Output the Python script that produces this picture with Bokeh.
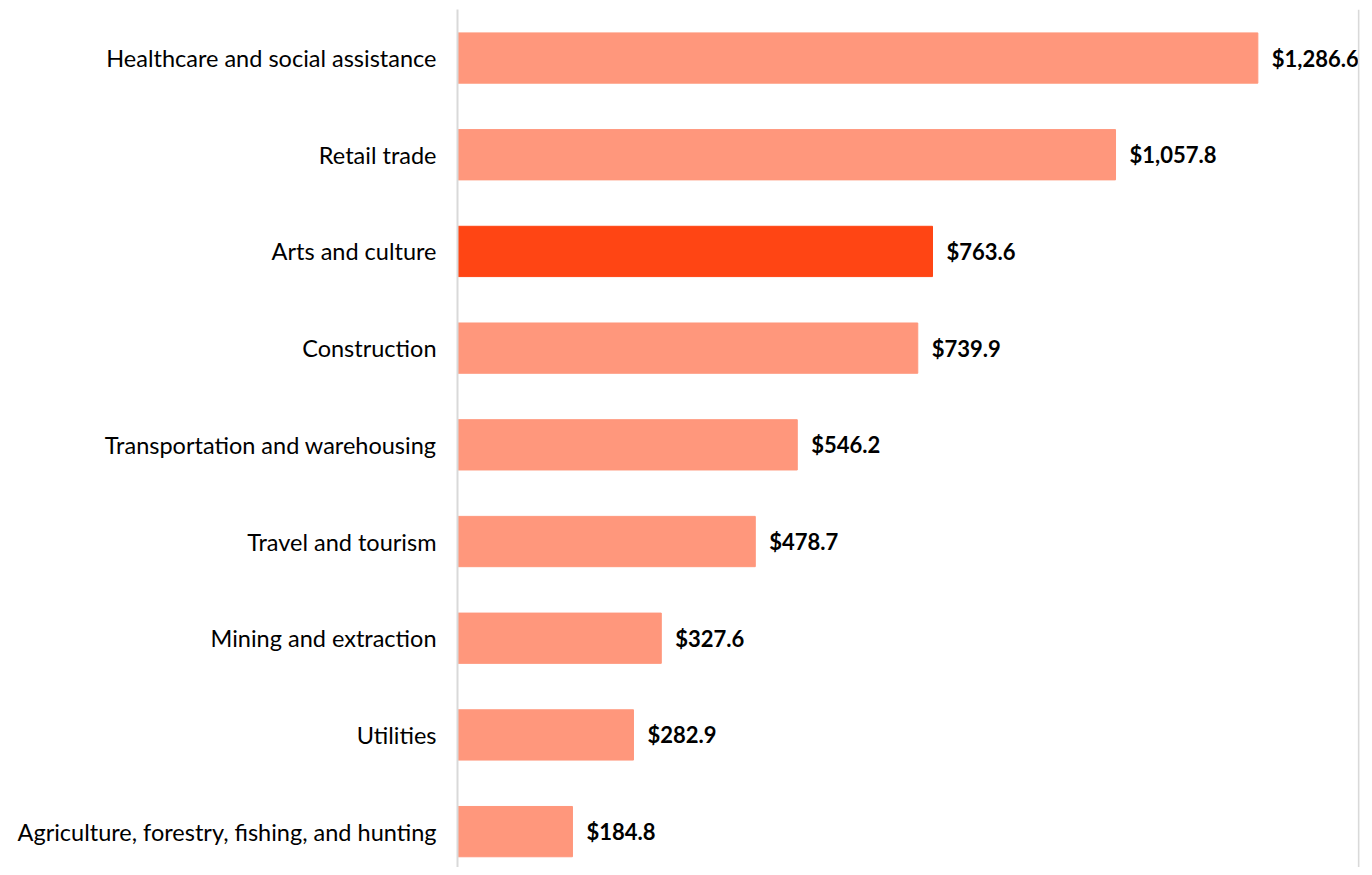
from bokeh.plotting import figure
from bokeh.models import ColumnDataSource, Range1d, Span, FixedTicker
from bokeh.core.properties import value
from bokeh.embed import file_html
from bokeh.resources import INLINE

categories = [
    "Healthcare and social assistance",
    "Retail trade",
    "Arts and culture",
    "Construction",
    "Transportation and warehousing",
    "Travel and tourism",
    "Mining and extraction",
    "Utilities",
    "Agriculture, forestry, fishing, and hunting",
]
values = [1286.6, 1057.8, 763.6, 739.9, 546.2, 478.7, 327.6, 282.9, 184.8]
highlight = "Arts and culture"

BASE = "#FF977C"
HI = "#FF4514"

pos = list(range(len(categories)))  # category slot, 0 = top
colors = [HI if c == highlight else BASE for c in categories]
labels = ["${:,.1f}".format(v) for v in values]

src = ColumnDataSource(dict(pos=pos, cat=categories, val=values, color=colors, label=labels))

FONT = "Lato"
X_END = 1450

p = figure(
    width=1364, height=867,
    y_range=Range1d(8.371, -0.502),
    x_range=Range1d(0, X_END),
    output_backend="svg", toolbar_location=None,
    min_border_left=457, min_border_right=5, min_border_top=9, min_border_bottom=0,
)
p.hbar(y="pos", right="val", left=0, height=0.52, color="color", source=src)
p.text(x="val", y="pos", text="label", source=src, x_offset=14,
       text_baseline="middle", text_align="left",
       text_font=value(FONT), text_font_size="22px", text_font_style="bold",
       text_color="#000000")

p.xaxis.visible = False
p.xgrid.visible = False
p.ygrid.visible = False
p.outline_line_color = None

ax = p.yaxis[0]
ax.ticker = FixedTicker(ticks=pos)
ax.major_label_overrides = {i: c for i, c in zip(pos, categories)}
ax.axis_line_color = "#D9D9D9"
ax.axis_line_width = 2
ax.major_tick_line_color = None
ax.minor_tick_line_color = None
ax.major_tick_out = 0
ax.major_tick_in = 0
ax.major_label_standoff = 21
ax.major_label_text_font = FONT
ax.major_label_text_font_size = "23.5px"
ax.major_label_text_color = "#000000"

p.add_layout(Span(location=X_END - 1, dimension="height",
                  line_color="#D9D9D9", line_width=2))

open("out.html", "w").write(file_html(p, INLINE))
